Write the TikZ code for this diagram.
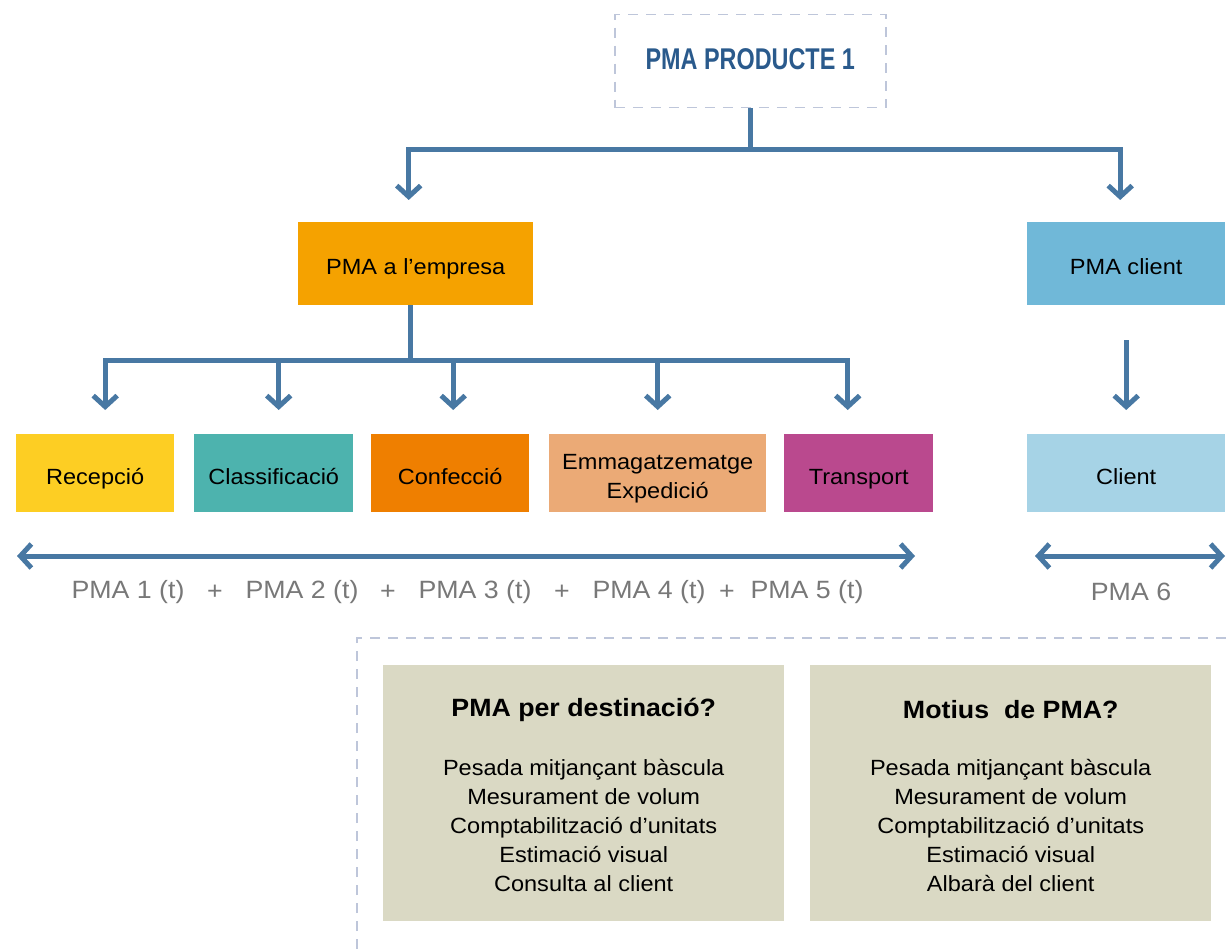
\documentclass[tikz,border=0pt]{standalone}
\usepackage{fontspec}
\setmainfont{Liberation Sans}[FakeStretch=1.07]
\newfontfamily\condfont[FakeStretch=0.78]{Liberation Sans}
\usetikzlibrary{arrows.meta,calc}

\definecolor{flowblue}{RGB}{72,120,163}
\definecolor{titleblue}{RGB}{42,90,140}
\definecolor{dashgray}{RGB}{190,198,218}
\definecolor{empresaorange}{RGB}{245,162,0}
\definecolor{clientblue}{RGB}{112,184,216}
\definecolor{recyellow}{RGB}{253,206,35}
\definecolor{clateal}{RGB}{77,179,174}
\definecolor{conorange}{RGB}{239,127,0}
\definecolor{emmpeach}{RGB}{235,170,118}
\definecolor{tramagenta}{RGB}{186,73,142}
\definecolor{clilight}{RGB}{166,211,230}
\definecolor{infogray}{RGB}{218,217,196}
\definecolor{sumgray}{RGB}{120,120,120}

\begin{document}
\begin{tikzpicture}[x=1pt, y=-1pt,
                    barb/.tip={Straight Barb[length=11pt,width=24pt]},
                    flowline/.style={draw=flowblue, line width=5pt},
                    flow/.style={flowline, -barb},
                    stage/.style={rectangle, inner sep=0pt, anchor=north west,
                                  align=center, text height=24pt, text depth=2pt,
                                  font=\fontsize{22}{29}\selectfont},
                    info/.style={rectangle, inner sep=0pt, anchor=north west,
                                 fill=infogray, minimum width=401pt, minimum height=256pt},
                    sumlabel/.style={text=sumgray, font=\fontsize{25}{28}\selectfont}
                   ]
\useasboundingbox (0,0) rectangle (1231,949);

% top
\node [draw=dashgray, line width=1.5pt, dash pattern=on 10pt off 8pt,
       anchor=north west, minimum width=271pt, minimum height=93pt, text depth=5pt,
       text=titleblue, font=\condfont\bfseries\fontsize{30}{34}\selectfont]
      (top) at (614,14) {PMA PRODUCTE 1};

\node [stage, fill=empresaorange, minimum width=235pt, minimum height=83pt]
      (empresa) at (298,222) {PMA a l’empresa};
\node [stage, fill=clientblue, minimum width=198pt, minimum height=83pt]
      (pmaclient) at (1027,222) {PMA client};

% stages
\node [stage, fill=recyellow, minimum width=158pt, minimum height=78pt]
      (rec) at (16,434) {Recepció};
\node [stage, fill=clateal, minimum width=159pt, minimum height=78pt]
      (cla) at (194,434) {Classificació};
\node [stage, fill=conorange, minimum width=158pt, minimum height=78pt]
      (con) at (371,434) {Confecció};
\node [stage, fill=emmpeach, minimum width=217pt, minimum height=78pt, text height=52pt]
      (emm) at (549,434) {Emmagatzematge\\Expedició};
\node [stage, fill=tramagenta, minimum width=149pt, minimum height=78pt]
      (tra) at (784,434) {Transport};
\node [stage, fill=clilight, minimum width=198pt, minimum height=78pt]
      (client) at (1027,434) {Client};

% connectors
\coordinate (j1) at ($(top.south)+(0,41)$);
\draw [flowline] (top.south) -- (j1);
\draw [flow, shorten >=22pt] (j1) -| ([xshift=-7pt]empresa.north);
\draw [flow, shorten >=22pt] (j1) -| ([xshift=-6pt]pmaclient.north);

\coordinate (j2) at ($([xshift=-5pt]empresa.south)+(0,55)$);
\draw [flowline] ([xshift=-5pt]empresa.south) -- (j2);
\foreach \s/\dx in {rec/10,cla/5,con/3,emm/0,tra/-11}
    \draw [flow, shorten >=24pt] (j2) -| ([xshift=\dx pt]\s.north);

\draw [flow, shorten <=35pt, shorten >=24pt] (pmaclient.south) -- (client.north);

% PMA sums
\coordinate (sl) at (17,556);
\coordinate (sr) at (915,556);
\coordinate (cl) at (1035,556);
\coordinate (cr) at (1225,556);
\draw [flowline, barb-barb] (sl) -- (sr);
\draw [flowline, barb-barb] (cl) -- (cr);

\foreach \x/\t [count=\i] in {128/PMA 1 (t), 215/+, 302/PMA 2 (t), 388/+,
                              475/PMA 3 (t), 562/+, 649/PMA 4 (t), 727/+,
                              807/PMA 5 (t), 1131/PMA 6}
    \node [sumlabel] (sum\i) at (\x,592) {\t};

% questions
\draw [dashgray, line width=1.5pt, dash pattern=on 10pt off 8pt]
      (357,949) -- (357,638) -- (1231,638);

\node [info] (dest) at (383,665) {};
\node [info] (mot) at (810,665) {};

\node [font=\bfseries\fontsize{25}{30}\selectfont] (desttitle)
      at ($(dest.north)+(0,45)$) {PMA per destinació?};
\node [align=center, font=\fontsize{22}{29}\selectfont] (destlist)
      at ($(dest.north)+(0,161)$)
      {Pesada mitjançant bàscula\\Mesurament de volum\\Comptabilització d’unitats\\
       Estimació visual\\Consulta al client};

\node [font=\bfseries\fontsize{25}{30}\selectfont] (mottitle)
      at ($(mot.north)+(0,45)$) {Motius\ \ de PMA?};
\node [align=center, font=\fontsize{22}{29}\selectfont] (motlist)
      at ($(mot.north)+(0,161)$)
      {Pesada mitjançant bàscula\\Mesurament de volum\\Comptabilització d’unitats\\
       Estimació visual\\Albarà del client};
\end{tikzpicture}
\end{document}
